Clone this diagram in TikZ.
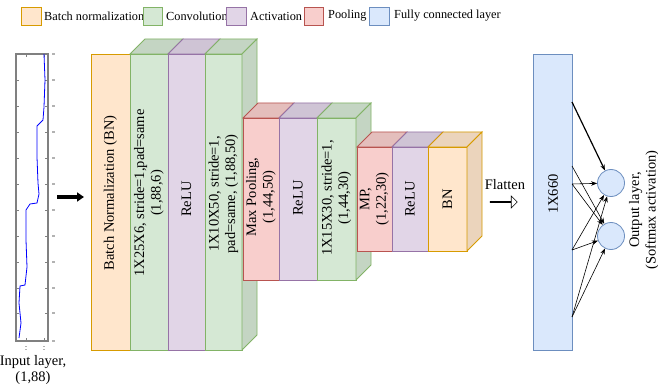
\documentclass[tikz,border=0pt]{standalone}
\usepackage{fontspec}
\setmainfont{Liberation Serif}
\usetikzlibrary{fit,arrows.meta,shapes.arrows}
\definecolor{bnfill}{HTML}{FFE6CC}\definecolor{bndraw}{HTML}{D79B00}
\definecolor{convfill}{HTML}{D5E8D4}\definecolor{convdraw}{HTML}{82B366}
\definecolor{actfill}{HTML}{E1D5E7}\definecolor{actdraw}{HTML}{9673A6}
\definecolor{poolfill}{HTML}{F8CECC}\definecolor{pooldraw}{HTML}{B85450}
\definecolor{fcfill}{HTML}{DAE8FC}\definecolor{fcdraw}{HTML}{6C8EBF}
\definecolor{plotgray}{HTML}{808080}
\tikzset{
  lbox/.style={line width=0.8pt, inner sep=0pt, outer sep=0pt},
  bnbox/.style={lbox, draw=bndraw, fill=bnfill},
  convbox/.style={lbox, draw=convdraw, fill=convfill},
  actbox/.style={lbox, draw=actdraw, fill=actfill},
  poolbox/.style={lbox, draw=pooldraw, fill=poolfill},
  fcbox/.style={lbox, draw=fcdraw, fill=fcfill},
  bnshade/.style={line width=0.8pt, draw=bndraw, fill=bnfill!92!black},
  convshade/.style={line width=0.8pt, draw=convdraw, fill=convfill!92!black},
  actshade/.style={line width=0.8pt, draw=actdraw, fill=actfill!92!black},
  poolshade/.style={line width=0.8pt, draw=pooldraw, fill=poolfill!92!black},
  lbl/.style={rotate=90, align=center, inner sep=0pt, font=\fontsize{14.5}{16.5}\selectfont},
  txt/.style={align=center, inner sep=0pt, font=\fontsize{14.5}{16.5}\selectfont},
  legtxt/.style={anchor=west, inner sep=0pt, font=\fontsize{12.3}{14}\selectfont},
  outarrow/.style={line width=0.6pt, -{Stealth[length=6pt,width=4.5pt]}},
  neuron/.style={circle, draw=fcdraw, fill=fcfill, line width=0.8pt, minimum size=27pt, inner sep=0pt},
}
\newcommand\layerbox[6]{\node[#6, fit={(#2,#3)(#4,#5)}] (#1) {};}
\newcommand\topface[2]{\draw[#2] (#1.north west) -- ++(15,-15) -- ([shift={(15,-15)}]#1.north east) -- (#1.north east) -- cycle;}
\newcommand\sideface[2]{\draw[#2] (#1.north east) -- ++(15,-15) -- ([shift={(15,-15)}]#1.south east) -- (#1.south east) -- cycle;}
\begin{document}
\begin{tikzpicture}[x=1pt,y=-1pt]
\useasboundingbox[fill=white] (0,0) rectangle (658,390);
% legend
\layerbox{lg1}{21}{7}{41}{25}{bnbox}
\node[legtxt] (lt1) at (44,16) {Batch normalization};
\layerbox{lg2}{143}{7}{162}{25}{convbox}
\node[legtxt] (lt2) at (166,16) {Convolution};
\layerbox{lg3}{226}{7}{246}{25}{actbox}
\node[legtxt] (lt3) at (250,16) {Activation};
\layerbox{lg4}{304}{7}{323}{25}{poolbox}
\node[legtxt] (lt4) at (328,16) {Pooling};
\layerbox{lg5}{369}{7}{389}{25}{fcbox}
\node[legtxt] (lt5) at (394,16) {Fully connected layer};
% input plot
\node[draw=plotgray, line width=1.2pt, inner sep=0pt, outer sep=0pt, fit={(16,54)(48,341)}] (plot) {};
\foreach \yy in {80,106,132,158,184,210,236,262,288,313} {
  \draw[plotgray, line width=0.8pt] (16,\yy) -- (19,\yy);
  \draw[plotgray, line width=0.8pt] (48,\yy) -- (45,\yy);
}
\foreach \yy in {54,80,106,132,158,184,210,236,262,288,313,341} {
  \draw[gray!60, line width=0.7pt] (52,\yy-1) -- (54.5,\yy-1);
  \draw[gray!60, line width=0.7pt] (52,\yy+0.5) -- (54.5,\yy+0.5);
}
\foreach \xx in {26,44} {
  \draw[plotgray, line width=0.8pt] (\xx,54) -- (\xx,57);
  \draw[plotgray, line width=0.8pt] (\xx,341) -- (\xx,338);
  \draw[gray!60, line width=0.7pt] (\xx-1,346) -- (\xx+1,346);
  \draw[gray!60, line width=0.7pt] (\xx-1,349) -- (\xx+1,349);
}
\draw[blue, line width=0.8pt] (44,54) -- (45,80) -- (44,107) -- (43,120) -- (37,126) -- (37,157) -- (38,183) -- (39,194) -- (37,203) -- (30,204) -- (26,210) -- (26,240) -- (27,267) -- (25,285) -- (20,286) -- (19,303) -- (21,323) -- (19,338);
\node[txt] (inlbl) at (33,370) {Input layer,\\(1,88)};
\coordinate (thickS) at (57,197);
\coordinate (thickE) at (84,197);
\draw[line width=3.2pt, -{Triangle[length=7pt,width=9pt]}] (thickS) -- (thickE);
% block 1
\layerbox{b1bn}{91}{54}{130}{350}{bnbox}
\layerbox{b1c1}{130}{54}{168}{350}{convbox}
\layerbox{b1r}{168}{54}{205}{350}{actbox}
\layerbox{b1c2}{205}{54}{242}{350}{convbox}
\topface{b1c1}{convshade}
\topface{b1r}{actshade}
\topface{b1c2}{convshade}
\sideface{b1c2}{convshade}
\node[lbl] (t1) at (110.5,193) {Batch Normalization (BN)};
\node[lbl] (t2) at (149,193) {1X25X6, stride=1,pad=same\\(1,88,6)};
\node[lbl] (t3) at (186.5,199) {ReLU};
\node[lbl] (t4) at (223.5,194) {1X10X50, stride=1,\\pad=same, (1,88,50)};
% block 2
\layerbox{b2p}{243}{118}{279}{280}{poolbox}
\layerbox{b2r}{279}{118}{317}{280}{actbox}
\layerbox{b2c}{317}{118}{356}{280}{convbox}
\topface{b2p}{poolshade}
\topface{b2r}{actshade}
\topface{b2c}{convshade}
\sideface{b2c}{convshade}
\node[lbl] (t5) at (261,197) {Max Pooling,\\(1,44,50)};
\node[lbl] (t6) at (298,198) {ReLU};
\node[lbl] (t7) at (336.5,198) {1X15X30, stride=1,\\(1,44,30)};
% block 3
\layerbox{b3p}{357}{147}{392}{251}{poolbox}
\layerbox{b3r}{392}{147}{428}{251}{actbox}
\layerbox{b3b}{428}{147}{467}{251}{bnbox}
\topface{b3p}{poolshade}
\topface{b3r}{actshade}
\topface{b3b}{bnshade}
\sideface{b3b}{bnshade}
\node[lbl] (t8) at (374.5,199) {MP,\\(1,22,30)};
\node[lbl] (t9) at (410,199) {ReLU};
\node[lbl] (t10) at (447.5,199) {BN};
% flatten
\node[txt] (flat) at (505,185) {Flatten};
\node[single arrow, draw=black, fill=white, line width=0.6pt, minimum height=27pt, minimum width=12pt, single arrow head extend=3pt, inner sep=0pt] (flatarr) at (503.5,202) {};
% fully connected
\layerbox{fc}{533}{54}{572}{350}{fcbox}
\node[lbl] (t11) at (553,194) {1X660};
\node[neuron] (o1) at (611,183) {};
\node[neuron] (o2) at (611,236) {};
\node[lbl] (t12) at (644,210) {Output layer,\\(Softmax activation)};
\coordinate (s1) at (572,102);
\coordinate (s2) at (572,166);
\coordinate (s3) at (572,184);
\coordinate (s4) at (572,250);
\coordinate (s5) at (572,317);
\draw[outarrow, line width=1.2pt] (s1) -- (o1);
\draw[outarrow] (s2) -- (o2);
\draw[outarrow] (s3) -- (o1);
\draw[outarrow] (s3) -- (o2);
\draw[outarrow] (s4) -- (o1);
\draw[outarrow] (s4) -- (o2);
\draw[outarrow] (s5) -- (o1);
\draw[outarrow] (s5) -- (o2);
\end{tikzpicture}
\end{document}
